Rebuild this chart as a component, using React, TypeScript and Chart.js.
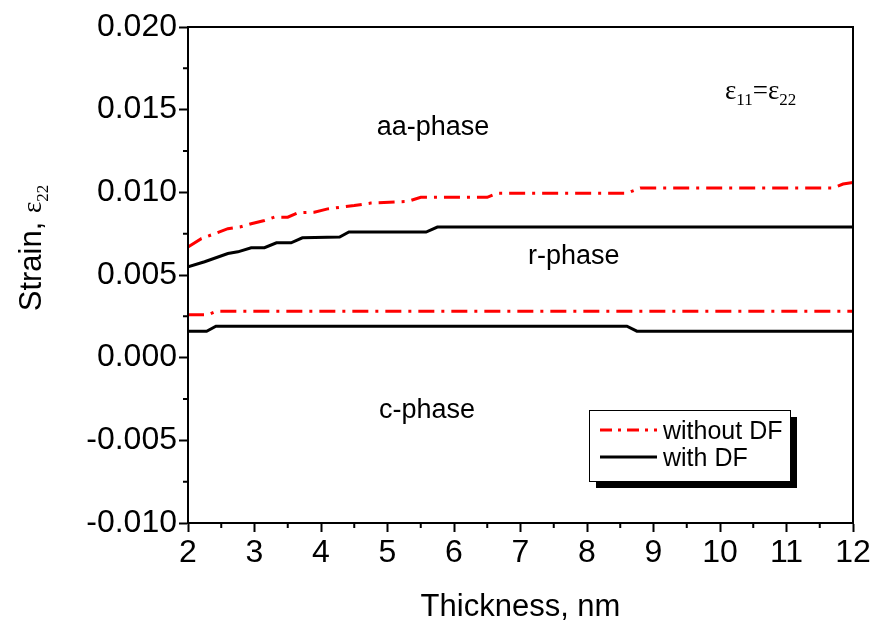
import React, { useEffect, useRef } from "react";
import { Chart, registerables } from "chart.js";

Chart.register(...registerables);

// ---- data ----
const upperWithoutX = [2.0, 2.2, 2.4, 2.6, 2.78, 2.95, 3.15, 3.3, 3.5, 3.65, 3.9, 4.1, 4.3, 4.5, 4.75, 5.3, 5.5, 6.5, 6.65, 8.6, 8.8, 11.7, 11.85, 12.0];
const upperWithoutY = [0.0067, 0.0072, 0.0075, 0.0078, 0.0079, 0.0081, 0.0083, 0.0085, 0.0085, 0.00876, 0.0088, 0.009, 0.0091, 0.0092, 0.00935, 0.00945, 0.0097, 0.0097, 0.00995, 0.00995, 0.01026, 0.01026, 0.0105, 0.0106];

const upperWithX = [2.0, 2.25, 2.6, 2.75, 2.95, 3.15, 3.33, 3.55, 3.72, 4.28, 4.42, 5.58, 5.75, 12.0];
const upperWithY = [0.0055, 0.0058, 0.0063, 0.0064, 0.00665, 0.00665, 0.00695, 0.00695, 0.00725, 0.0073, 0.0076, 0.0076, 0.0079, 0.0079];

const lowerWithoutX = [2.0, 2.3, 2.42, 12.0];
const lowerWithoutY = [0.0026, 0.0026, 0.0028, 0.0028];

const lowerWithX = [2.0, 2.28, 2.42, 8.6, 8.75, 12.0];
const lowerWithY = [0.0016, 0.0016, 0.0019, 0.0019, 0.0016, 0.0016];

const xTicks = [2, 3, 4, 5, 6, 7, 8, 9, 10, 11, 12];
const yTicks = [-0.01, -0.005, 0, 0.005, 0.01, 0.015, 0.02];

const legendLabels = ["without DF", "with DF"];
const phaseLabels = ["aa-phase", "r-phase", "c-phase"];

const RED = "#ff0000";
const DASH = [16, 7, 3, 7];
const SANS = "'Liberation Sans', Arial, sans-serif";
const SERIF = "'Liberation Serif', 'Times New Roman', serif";

const pts = (xs: number[], ys: number[]) => xs.map((x, i) => ({ x, y: ys[i] }));

function drawParts(ctx: CanvasRenderingContext2D, x: number, y: number, parts: { t: string; f: string; dy: number }[], align: "left" | "center") {
  let total = 0;
  for (const p of parts) {
    ctx.font = p.f;
    total += ctx.measureText(p.t).width;
  }
  let cx = align === "center" ? x - total / 2 : x;
  ctx.textAlign = "left";
  ctx.textBaseline = "alphabetic";
  for (const p of parts) {
    ctx.font = p.f;
    ctx.fillText(p.t, cx, y + p.dy);
    cx += ctx.measureText(p.t).width;
  }
}

const decorPlugin = {
  id: "decor",
  afterDraw(chart: any) {
    const ctx: CanvasRenderingContext2D = chart.ctx;
    const a = chart.chartArea;
    const xs = chart.scales.x;
    const ys = chart.scales.y;
    ctx.save();
    ctx.fillStyle = "#000";
    ctx.strokeStyle = "#000";
    // frame
    ctx.lineWidth = 2;
    ctx.strokeRect(a.left, a.top, a.right - a.left, a.bottom - a.top);
    // minor ticks
    ctx.lineWidth = 2;
    ctx.beginPath();
    for (let i = 0; i < xTicks.length - 1; i++) {
      const px = xs.getPixelForValue((xTicks[i] + xTicks[i + 1]) / 2);
      ctx.moveTo(px, a.bottom);
      ctx.lineTo(px, a.bottom + 5);
    }
    for (let i = 0; i < yTicks.length - 1; i++) {
      const py = ys.getPixelForValue((yTicks[i] + yTicks[i + 1]) / 2);
      ctx.moveTo(a.left, py);
      ctx.lineTo(a.left - 5, py);
    }
    ctx.stroke();

    // phase labels
    ctx.font = `27px ${SANS}`;
    ctx.textAlign = "center";
    ctx.textBaseline = "alphabetic";
    ctx.fillText(phaseLabels[0], 433, 135);
    ctx.textAlign = "left";
    ctx.fillText(phaseLabels[1], 528, 264);
    ctx.textAlign = "center";
    ctx.fillText(phaseLabels[2], 427, 418);

    // epsilon annotation
    drawParts(ctx, 725, 99, [
      { t: "ε", f: `27px ${SERIF}`, dy: 0 },
      { t: "11", f: `17px ${SERIF}`, dy: 6 },
      { t: "=", f: `27px ${SERIF}`, dy: 0 },
      { t: "ε", f: `27px ${SERIF}`, dy: 0 },
      { t: "22", f: `17px ${SERIF}`, dy: 6 },
    ], "left");

    // legend
    const lx = 589, ly = 410, lw = 201, lh = 71;
    ctx.fillRect(lx + 7, ly + 7, lw, lh);
    ctx.fillStyle = "#fff";
    ctx.fillRect(lx, ly, lw, lh);
    ctx.lineWidth = 1;
    ctx.strokeStyle = "#000";
    ctx.strokeRect(lx + 0.5, ly + 0.5, lw, lh);
    ctx.lineWidth = 3;
    ctx.strokeStyle = RED;
    ctx.setLineDash([12, 6, 3, 6]);
    ctx.beginPath();
    ctx.moveTo(600, 430);
    ctx.lineTo(657, 430);
    ctx.stroke();
    ctx.setLineDash([]);
    ctx.strokeStyle = "#000";
    ctx.beginPath();
    ctx.moveTo(600, 457);
    ctx.lineTo(657, 457);
    ctx.stroke();
    ctx.fillStyle = "#000";
    ctx.font = `25px ${SANS}`;
    ctx.textAlign = "left";
    ctx.fillText(legendLabels[0], 663, 439);
    ctx.fillText(legendLabels[1], 663, 466);

    // axis titles
    ctx.textAlign = "center";
    ctx.font = `31px ${SANS}`;
    ctx.fillText("Thickness, nm", (a.left + a.right) / 2, 616);
    ctx.save();
    ctx.translate(41, 248);
    ctx.rotate(-Math.PI / 2);
    drawParts(ctx, 0, 0, [
      { t: "Strain, ", f: `31px ${SANS}`, dy: 0 },
      { t: "ε", f: `27px ${SERIF}`, dy: 0 },
      { t: "22", f: `17px ${SERIF}`, dy: 7 },
    ], "center");
    ctx.restore();
    ctx.restore();
  },
};

export default function App() {
  const ref = useRef<HTMLCanvasElement>(null);
  useEffect(() => {
    document.body.style.margin = "0";
    const chart = new Chart(ref.current!, {
      type: "line",
      data: {
        datasets: [
          { data: pts(upperWithoutX, upperWithoutY), borderColor: RED, borderWidth: 3, borderDash: DASH, pointRadius: 0, tension: 0, fill: false },
          { data: pts(upperWithX, upperWithY), borderColor: "#000", borderWidth: 3, pointRadius: 0, tension: 0, fill: false },
          { data: pts(lowerWithoutX, lowerWithoutY), borderColor: RED, borderWidth: 3, borderDash: DASH, pointRadius: 0, tension: 0, fill: false },
          { data: pts(lowerWithX, lowerWithY), borderColor: "#000", borderWidth: 3, pointRadius: 0, tension: 0, fill: false },
        ],
      },
      options: {
        responsive: false,
        animation: false,
        events: [],
        layout: { padding: { left: 0, top: 27, right: 25, bottom: 0 } },
        plugins: { legend: { display: false }, tooltip: { enabled: false } },
        scales: {
          x: {
            type: "linear",
            min: 2,
            max: 12,
            afterFit: (s: any) => { s.height = 104; },
            afterBuildTicks: (s: any) => { s.ticks = xTicks.map((v) => ({ value: v })); },
            ticks: { color: "#000", font: { family: SANS, size: 32 }, padding: 2 },
            grid: { display: true, drawOnChartArea: false, drawTicks: true, tickLength: 9, tickWidth: 2, tickColor: "#000" },
            border: { display: true, color: "#000", width: 2 },
          },
          y: {
            type: "linear",
            min: -0.01,
            max: 0.02,
            afterFit: (s: any) => { s.width = 188; },
            afterBuildTicks: (s: any) => { s.ticks = yTicks.map((v) => ({ value: v })); },
            ticks: { color: "#000", font: { family: SANS, size: 32 }, padding: 2, callback: (v: any) => Number(v).toFixed(3) },
            grid: { display: true, drawOnChartArea: false, drawTicks: true, tickLength: 9, tickWidth: 2, tickColor: "#000" },
            border: { display: true, color: "#000", width: 2 },
          },
        },
      },
      plugins: [decorPlugin],
    });
    return () => chart.destroy();
  }, []);
  return (
    <div style={{ position: "fixed", left: 0, top: 0, width: 878, height: 627, background: "#fff" }}>
      <canvas ref={ref} width={878} height={627} />
    </div>
  );
}
